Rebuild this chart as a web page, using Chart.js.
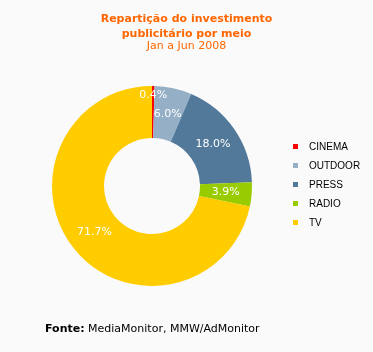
<!DOCTYPE html>
<html><head><meta charset="utf-8">
<script src="https://cdn.jsdelivr.net/npm/chart.js@4"></script>
<style>
html,body{margin:0;padding:0;background:#FAFAFA;}
#wrap{position:relative;width:373px;height:352px;overflow:hidden;background:#FAFAFA;}
canvas{position:absolute;left:0;top:0;}
.t{position:absolute;left:0;width:373px;text-align:center;color:#FF6600;font-family:"DejaVu Sans",sans-serif;font-size:11px;line-height:14px;white-space:nowrap;}
.b{font-weight:bold;}
#legend{position:absolute;left:293px;top:140px;font-family:"Liberation Sans",Arial,sans-serif;font-size:10px;color:#000;}
.li{position:relative;height:19px;}
.sw{position:absolute;left:0;top:4px;width:5px;height:5px;}
.lt{position:absolute;left:16px;top:0;line-height:13px;white-space:nowrap;}
#src{position:absolute;left:45px;top:322px;font-family:"DejaVu Sans",sans-serif;font-size:11px;color:#000;white-space:nowrap;}
</style></head>
<body><div id="wrap">
<canvas id="c" width="373" height="352"></canvas>
<div class="t b" id="t1" style="top:12px">Repartição do investimento</div>
<div class="t b" id="t2" style="top:27px">publicitário por meio</div>
<div class="t" id="t3" style="top:39px">Jan a Jun 2008</div>
<div id="legend"></div>
<div id="src"><b>Fonte:</b> MediaMonitor, MMW/AdMonitor</div>
</div>
<script>
const categories = ["CINEMA", "OUTDOOR", "PRESS", "RADIO", "TV"];
const values = [0.4, 6.0, 18.0, 3.9, 71.7];
const valueLabels = ["0.4%", "6.0%", "18.0%", "3.9%", "71.7%"];
const colors = ["#FF0000", "#94AFC6", "#52789A", "#99CC00", "#FFCC00"];

const lg = document.getElementById('legend');
categories.forEach((c, i) => {
  const d = document.createElement('div'); d.className = 'li';
  d.innerHTML = '<span class="sw" style="background:' + colors[i] + '"></span><span class="lt">' + c + '</span>';
  lg.appendChild(d);
});

const labelPlugin = {
  id: 'sliceLabels',
  afterDatasetsDraw(chart) {
    const ctx = chart.ctx;
    const meta = chart.getDatasetMeta(0);
    ctx.save();
    ctx.font = '11px "DejaVu Sans", sans-serif';
    ctx.fillStyle = '#FFFFFF';
    ctx.textAlign = 'center';
    ctx.textBaseline = 'middle';
    meta.data.forEach((arc, i) => {
      const p = arc.getProps(['x','y','startAngle','endAngle','innerRadius','outerRadius'], true);
      const mid = (p.startAngle + p.endAngle) / 2;
      const frac = values[i] / 100;
      const r = frac < 0.01 ? p.outerRadius - 9 : (p.innerRadius + p.outerRadius) / 2;
      ctx.fillText(valueLabels[i], p.x + Math.cos(mid) * r, p.y + Math.sin(mid) * r);
    });
    ctx.restore();
  }
};

new Chart(document.getElementById('c'), {
  type: 'doughnut',
  data: { labels: categories, datasets: [{ data: values, backgroundColor: colors, borderWidth: 0, hoverOffset: 0 }] },
  options: {
    responsive: false, animation: false, cutout: '48%',
    layout: { padding: { left: 52, top: 86, right: 121, bottom: 66 } },
    plugins: { legend: { display: false }, tooltip: { enabled: false } }
  },
  plugins: [labelPlugin]
});
</script>
</body></html>
